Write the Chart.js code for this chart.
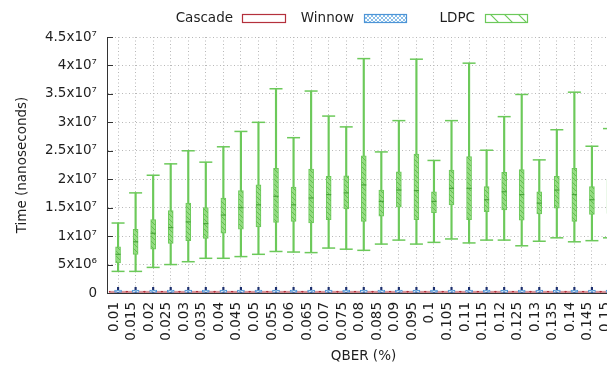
<!DOCTYPE html>
<html>
<head>
<meta charset="utf-8">
<script src="https://cdn.jsdelivr.net/npm/chart.js@4.4.1/dist/chart.umd.min.js"></script>
<style>
html,body{margin:0;padding:0;overflow:hidden;background:#fff;width:607px;height:372px}
#wrap{width:640px;height:372px;position:relative}
</style>
</head>
<body>
<div id="wrap"><canvas id="c" width="640" height="372"></canvas></div>
<script>
// ---------- data ----------
const categories = ['0.01','0.015','0.02','0.025','0.03','0.035','0.04','0.045','0.05','0.055','0.06','0.065','0.07','0.075','0.08','0.085','0.09','0.095','0.1','0.105','0.11','0.115','0.12','0.125','0.13','0.135','0.14','0.145','0.15'];
const seriesNames = ['Cascade','Winnow','LDPC'];
const yTickLabels = ['0','5x10⁶','1x10⁷','1.5x10⁷','2x10⁷','2.5x10⁷','3x10⁷','3.5x10⁷','4x10⁷','4.5x10⁷'];

const ldpcMin = [3.8e6,3.8e6,4.5e6,5.0e6,5.5e6,6.1e6,6.1e6,6.4e6,6.8e6,7.3e6,7.2e6,7.1e6,7.9e6,7.7e6,7.5e6,8.6e6,9.3e6,8.6e6,8.9e6,9.5e6,8.8e6,9.3e6,9.3e6,8.3e6,9.1e6,9.7e6,9.0e6,9.2e6,9.7e6];
const ldpcQ1  = [5.3e6,6.8e6,7.7e6,8.7e6,9.2e6,9.6e6,10.5e6,11.2e6,11.6e6,12.4e6,12.6e6,12.3e6,12.9e6,14.8e6,12.6e6,13.5e6,15.1e6,12.9e6,14.1e6,15.5e6,12.9e6,14.3e6,14.6e6,12.8e6,13.9e6,14.9e6,12.6e6,13.8e6,14.0e6];
const ldpcMed = [6.8e6,9.0e6,10.5e6,11.5e6,12.5e6,12.2e6,13.7e6,15.0e6,15.5e6,17.0e6,15.5e6,16.7e6,17.3e6,17.6e6,19.0e6,16.1e6,18.1e6,18.0e6,16.1e6,18.4e6,18.4e6,16.4e6,17.8e6,17.3e6,15.8e6,18.1e6,17.3e6,16.4e6,17.0e6];
const ldpcQ3  = [8.1e6,11.2e6,12.9e6,14.5e6,15.8e6,15.0e6,16.7e6,18.0e6,19.0e6,21.9e6,18.6e6,21.8e6,20.5e6,20.6e6,24.1e6,18.1e6,21.3e6,24.4e6,17.8e6,21.6e6,24.0e6,18.7e6,21.2e6,21.7e6,17.8e6,20.5e6,21.9e6,18.7e6,20.0e6];
const ldpcMax = [12.3e6,17.6e6,20.7e6,22.7e6,25.0e6,23.0e6,25.7e6,28.4e6,30.0e6,35.9e6,27.3e6,35.5e6,31.1e6,29.2e6,41.2e6,24.8e6,30.3e6,41.1e6,23.3e6,30.3e6,40.4e6,25.1e6,31.0e6,34.9e6,23.4e6,28.7e6,35.3e6,25.8e6,28.9e6];

const cascadeMin = [0,0,0,0,0,0,0,0,0,0,0,0,0,0,0,0,0,0,0,0,0,0,0,0,0,0,0,0,0];
const cascadeMax = [3.5e5,3.5e5,3.5e5,3.5e5,3.5e5,3.5e5,3.5e5,3.5e5,3.5e5,3.5e5,3.5e5,3.5e5,3.5e5,3.5e5,3.5e5,3.5e5,3.5e5,3.5e5,3.5e5,3.5e5,3.5e5,3.5e5,3.5e5,3.5e5,3.5e5,3.5e5,3.5e5,3.5e5,3.5e5];

const winnowMin = [0,0,0,0,0,0,0,0,0,0,0,0,0,0,0,0,0,0,0,0,0,0,0,0,0,0,0,0,0];
const winnowQ3  = [5e5,5e5,5e5,5e5,5e5,5e5,5e5,5e5,5e5,5e5,5e5,5e5,5e5,5e5,5e5,5e5,5e5,5e5,5e5,5e5,5e5,5e5,5e5,5e5,5e5,5e5,5e5,5e5,5e5];
const winnowMax = [1.0e6,1.0e6,1.0e6,1.0e6,1.0e6,1.0e6,1.0e6,1.0e6,1.0e6,1.0e6,1.0e6,1.0e6,1.0e6,1.0e6,1.0e6,1.0e6,1.0e6,1.0e6,1.0e6,1.0e6,1.0e6,1.0e6,1.0e6,1.0e6,1.0e6,1.0e6,1.0e6,1.0e6,1.0e6];

// ---------- styles ----------
const FONT = 'DejaVu Sans';
const TXT = '#1e1e1e';
const GREEN = '#6cc95a';
const RED = '#b4303c';
const BLUE = '#4d94d6';
const NAVY = '#1c2f6e';

function makePattern(size, bg, color, kind, lw){
  const c = document.createElement('canvas');
  c.width = c.height = size;
  const g = c.getContext('2d');
  if (bg) { g.fillStyle = bg; g.fillRect(0,0,size,size); }
  g.strokeStyle = color; g.lineWidth = lw || 1;
  g.beginPath();
  if (kind === 'diag' || kind === 'cross') {
    g.moveTo(-size/2, -size/2); g.lineTo(size*1.5, size*1.5);
    g.moveTo(-size, 0); g.lineTo(size, size*2);
    g.moveTo(0, -size); g.lineTo(size*2, size);
  }
  if (kind === 'cross') {
    g.moveTo(size*1.5, -size/2); g.lineTo(-size/2, size*1.5);
    g.moveTo(size*2, 0); g.lineTo(0, size*2);
    g.moveTo(size, -size); g.lineTo(-size, size);
  }
  g.stroke();
  return g.createPattern(c, 'repeat');
}
const ldpcFill = makePattern(5, 'rgba(160,225,140,0.7)', '#62bd50', 'diag', 1);
const winnowFill = makePattern(4, '#ffffff', '#6fafe3', 'cross', 0.8);
const ldpcLegendFill = makePattern(14, null, GREEN, 'diag', 1.2);
const winnowLegendFill = makePattern(4, '#ffffff', '#6fafe3', 'cross', 0.8);

// ---------- datasets ----------
const idx = categories.map((_, i) => i);
const datasets = [
  { type:'bar', label:'Winnow', data: idx.map(i => ({x:i, y:[winnowMin[i], winnowQ3[i]]})),
    backgroundColor: winnowFill, borderColor: BLUE, borderWidth: 1, borderSkipped: false,
    barThickness: 7, grouped: false, order: 0 },
  { type:'bar', label:'Winnow whisker', data: idx.map(i => ({x:i, y:[winnowMin[i], winnowMax[i]]})),
    backgroundColor: NAVY, borderWidth: 0, barThickness: 1.5, grouped: false, order: 1 },
  { type:'bar', label:'Cascade', data: idx.map(i => ({x:i, y:[cascadeMin[i], cascadeMax[i]]})),
    backgroundColor: 'rgba(255,255,255,0)', borderColor: RED, borderWidth: 1, borderSkipped: false,
    barThickness: 18, grouped: false, order: 2 },
  { type:'line', label:'LDPC median', data: idx.map(i => ({x:i, y:ldpcMed[i]})),
    showLine: false, pointStyle: 'line', pointRadius: 2.5, pointBorderWidth: 1.2,
    pointBorderColor: '#4aa63a', order: 3 },
  { type:'bar', label:'LDPC', data: idx.map(i => ({x:i, y:[ldpcQ1[i], ldpcQ3[i]]})),
    backgroundColor: ldpcFill, borderColor: GREEN, borderWidth: 1, borderSkipped: false,
    barThickness: 5, grouped: false, order: 4 },
  { type:'line', label:'LDPC caps max', data: idx.map(i => ({x:i, y:ldpcMax[i]})),
    showLine: false, pointStyle: 'line', pointRadius: 6.5, pointBorderWidth: 1.5,
    pointBorderColor: GREEN, order: 5 },
  { type:'line', label:'LDPC caps min', data: idx.map(i => ({x:i, y:ldpcMin[i]})),
    showLine: false, pointStyle: 'line', pointRadius: 6.5, pointBorderWidth: 1.5,
    pointBorderColor: GREEN, order: 5 },
  { type:'bar', label:'LDPC whisker', data: idx.map(i => ({x:i, y:[ldpcMin[i], ldpcMax[i]]})),
    backgroundColor: GREEN, borderWidth: 0, barThickness: 1.5, grouped: false, order: 6 }
];

// ---------- plugins ----------
const innerTicks = {
  id: 'innerTicks',
  beforeDatasetsDraw(chart) {
    const {ctx, chartArea} = chart;
    const ys = chart.scales.y;
    ctx.save();
    ctx.strokeStyle = '#333';
    ctx.lineWidth = 1;
    ys.ticks.forEach((t, i) => {
      const py = Math.round(ys.getPixelForTick(i)) + 0.5;
      const len = (t.value % 5e6 === 0) ? 6 : 3;
      ctx.beginPath();
      ctx.moveTo(chartArea.left, py);
      ctx.lineTo(chartArea.left + len, py);
      ctx.stroke();
    });
    ctx.restore();
  }
};

const gpLegend = {
  id: 'gpLegend',
  afterDraw(chart) {
    const ctx = chart.ctx;
    const items = [
      { name: seriesNames[0], textRight: 233, x0: 242, x1: 285, stroke: RED, fill: '#ffffff' },
      { name: seriesNames[1], textRight: 354, x0: 364, x1: 406, stroke: BLUE, fill: winnowLegendFill },
      { name: seriesNames[2], textRight: 475, x0: 485, x1: 527, stroke: GREEN, fill: ldpcLegendFill }
    ];
    const yc = 18, h = 8;
    ctx.save();
    ctx.font = '13.5px "' + FONT + '"';
    ctx.textAlign = 'right';
    ctx.textBaseline = 'middle';
    items.forEach(it => {
      ctx.fillStyle = TXT;
      ctx.fillText(it.name, it.textRight, yc);
      ctx.fillStyle = it.fill;
      ctx.fillRect(it.x0, yc - h/2, it.x1 - it.x0, h);
      ctx.strokeStyle = it.stroke;
      ctx.lineWidth = 1.2;
      ctx.strokeRect(it.x0 + 0.5, yc - h/2 + 0.5, it.x1 - it.x0, h);
    });
    ctx.restore();
  }
};

// ---------- chart ----------
new Chart(document.getElementById('c'), {
  type: 'bar',
  data: { datasets },
  plugins: [innerTicks, gpLegend],
  options: {
    responsive: false,
    animation: false,
    devicePixelRatio: 1,
    layout: { padding: { left: 0, right: 20, top: 37, bottom: 0 } },
    plugins: { legend: { display: false }, tooltip: { enabled: false } },
    scales: {
      x: {
        type: 'linear', min: -0.63, max: 28.6, offset: false,
        ticks: {
          stepSize: 1, autoSkip: false, includeBounds: false,
          minRotation: 90, maxRotation: 90, padding: 9, labelOffset: -4,
          color: TXT, font: { family: FONT, size: 13.5 },
          callback: v => (categories[v] !== undefined ? categories[v] : '')
        },
        grid: { color: '#b8b8b8', lineWidth: 1, drawTicks: false, offset: false },
        border: { display: true, color: '#333', width: 1, dash: [1, 2.5] },
        title: { display: true, text: 'QBER (%)', color: TXT, font: { family: FONT, size: 13.5 }, padding: { top: 7, bottom: 7 } },
        afterFit(s) { s.height = 79; }
      },
      y: {
        min: 0, max: 4.5e7,
        ticks: {
          stepSize: 2.5e6, padding: 10, color: TXT, font: { family: FONT, size: 13.5 },
          callback: v => (v % 5e6 === 0 ? yTickLabels[v / 5e6] : '')
        },
        grid: { color: '#b8b8b8', lineWidth: 1, drawTicks: false },
        border: { display: true, color: '#333', width: 1, dash: [1, 2.5] },
        title: { display: true, text: 'Time (nanoseconds)', color: TXT, font: { family: FONT, size: 13.5 }, padding: { top: 14, bottom: 14 } },
        afterFit(s) { s.width = 107; }
      }
    }
  }
});
</script>
</body>
</html>
